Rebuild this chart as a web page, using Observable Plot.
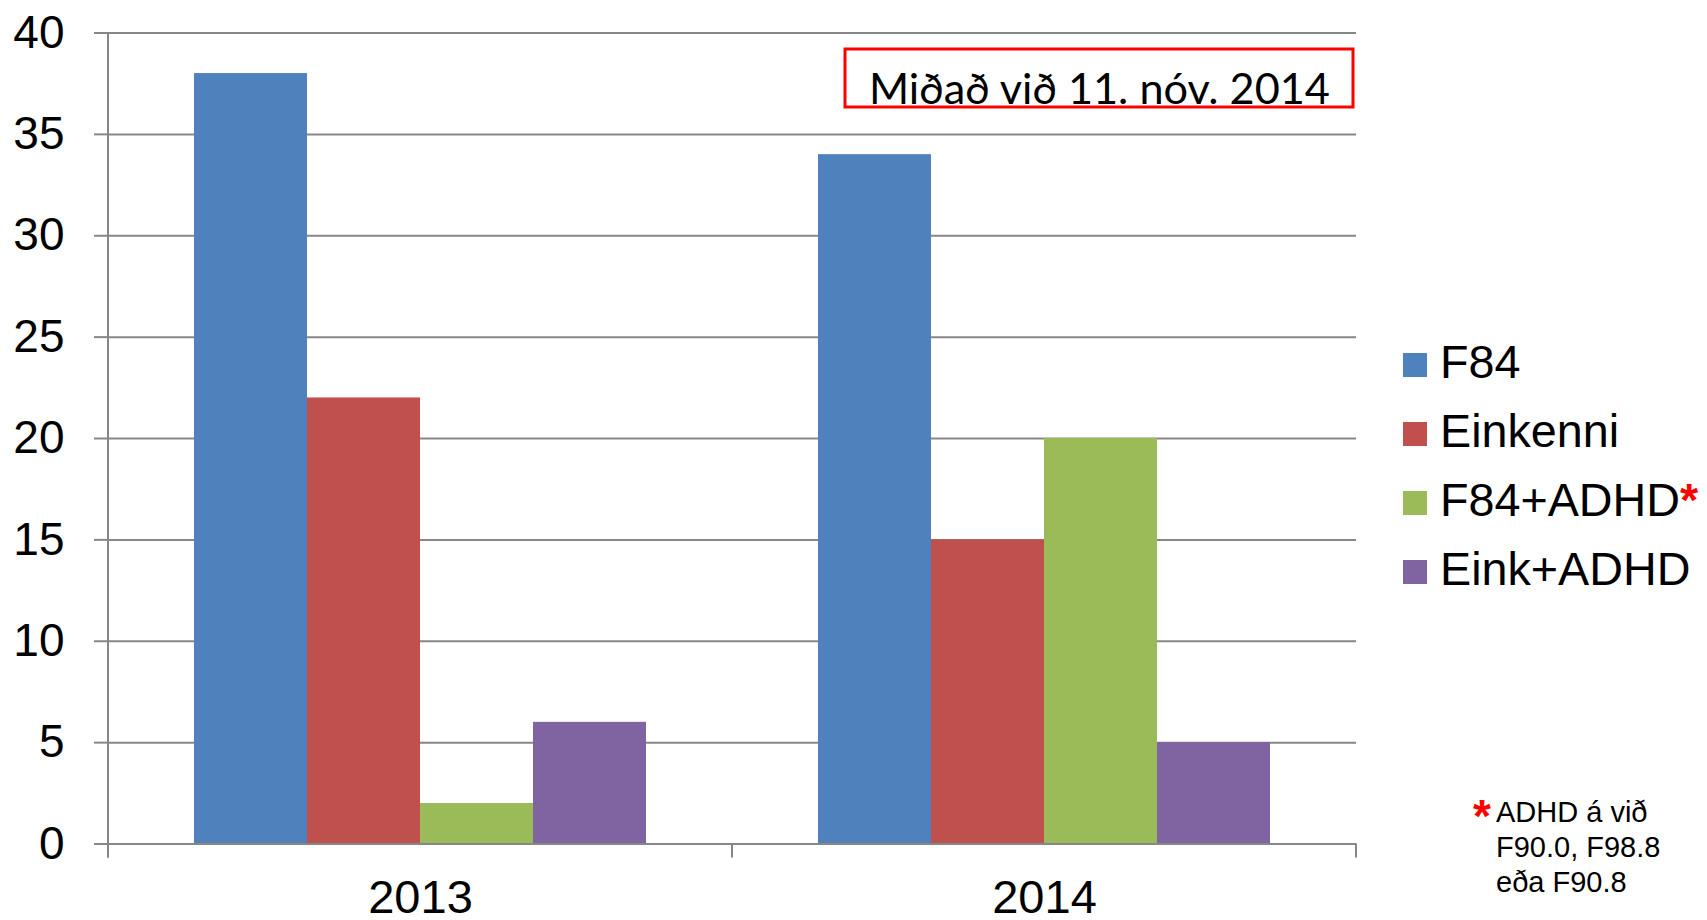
<!DOCTYPE html>
<html><head><meta charset="utf-8">
<script src="https://cdn.jsdelivr.net/npm/d3@7"></script>
<script src="https://cdn.jsdelivr.net/npm/@observablehq/plot@0.6"></script>
<style>
html,body{margin:0;padding:0;background:#fff;}
#wrap{position:relative;width:1707px;height:920px;}
</style></head><body><div id="wrap"></div>
<script>
const years = ["2013", "2014"];
const series = ["F84", "Einkenni", "F84+ADHD", "Eink+ADHD"];
const values2013 = [38, 22, 2, 6];
const values2014 = [34, 15, 20, 5];
const colors = ["#4F81BD", "#C0504D", "#9BBB59", "#8064A2"];
const yTicks = [0, 5, 10, 15, 20, 25, 30, 35, 40];
const noteText = "Miðað við 11. nóv. 2014";
const footnoteLines = ["ADHD á við", "F90.0, F98.8", "eða F90.8"];

const rows = [];
[values2013, values2014].forEach((vals, j) => {
  series.forEach((s, i) => rows.push({year: years[j], series: s, value: vals[i]}));
});

const grid = "#878787";
const font = "'Liberation Sans', Arial, sans-serif";

const chart = Plot.plot({
  width: 1707, height: 920,
  marginLeft: 107, marginRight: 351, marginTop: 32.5, marginBottom: 76.5,
  style: {fontFamily: font, background: "white", overflow: "visible"},
  fx: {domain: years, padding: 0, label: null},
  x: {domain: series, paddingInner: 0, paddingOuter: 0.75, axis: null},
  y: {domain: [0, 40], label: null},
  color: {domain: series, range: colors},
  marks: [
    Plot.ruleY(yTicks.slice(1), {stroke: grid, strokeWidth: 2}),
    Plot.barY(rows, {fx: "year", x: "series", y: "value", fill: "series", inset: 0}),
    Plot.ruleY([0], {stroke: grid, strokeWidth: 2}),
    Plot.axisY(yTicks, {tickSize: 14, tickPadding: 30, fontSize: 46, color: "black", stroke: grid, strokeWidth: 2, label: null}),
    Plot.axisFx({anchor: "bottom", tickSize: 0, tickPadding: 36, fontSize: 47, color: "black", label: null})
  ]
});
document.getElementById("wrap").appendChild(chart);

const svg = d3.select(chart);
const fx = chart.scale("fx"), y = chart.scale("y");
const y0 = y.apply(0), yTop = y.apply(40);
const tickLen = 14;
const deco = svg.append("g").attr("stroke", grid).attr("stroke-width", 2);
const xLeft = fx.apply(years[0]);
deco.append("line").attr("x1", xLeft).attr("x2", xLeft).attr("y1", yTop).attr("y2", y0 + tickLen);
const edges = years.map(v => fx.apply(v)).concat([fx.apply(years[years.length - 1]) + fx.bandwidth]);
edges.forEach(xx => deco.append("line").attr("x1", xx).attr("x2", xx).attr("y1", y0).attr("y2", y0 + tickLen));

// Legend
const lg = svg.append("g").attr("font-family", font).attr("text-anchor", "start");
series.forEach((s, i) => {
  const top = 353 + i * 69;
  lg.append("rect").attr("x", 1403).attr("y", top).attr("width", 24).attr("height", 24).attr("fill", colors[i]);
  const t = lg.append("text").attr("x", 1440).attr("y", top + 25).attr("font-size", 46.7).attr("fill", "black").text(s);
  if (s === "F84+ADHD") t.append("tspan").attr("fill", "red").attr("font-weight", "bold").text("*");
});

// Footnote
const fn = svg.append("g").attr("font-family", font).attr("text-anchor", "start");
fn.append("text").attr("x", 1473).attr("y", 832).attr("font-size", 46).attr("font-weight", "bold").attr("fill", "red").text("*");
footnoteLines.forEach((l, i) => {
  fn.append("text").attr("x", 1496).attr("y", 822 + i * 35).attr("font-size", 29).attr("fill", "black").text(l);
});

// Annotation box
const an = svg.append("g").attr("text-anchor", "start");
an.append("rect").attr("x", 845).attr("y", 49).attr("width", 508).attr("height", 58)
  .attr("fill", "none").attr("stroke", "red").attr("stroke-width", 3);
const nt = an.append("text").attr("x", 869).attr("y", 104).attr("font-family", "Lato, 'Open Sans', sans-serif")
  .attr("font-size", 46).attr("fill", "black").text(noteText);
const len = nt.node().getComputedTextLength();
nt.attr("font-size", 46 * 461 / len);
</script>
</body></html>
